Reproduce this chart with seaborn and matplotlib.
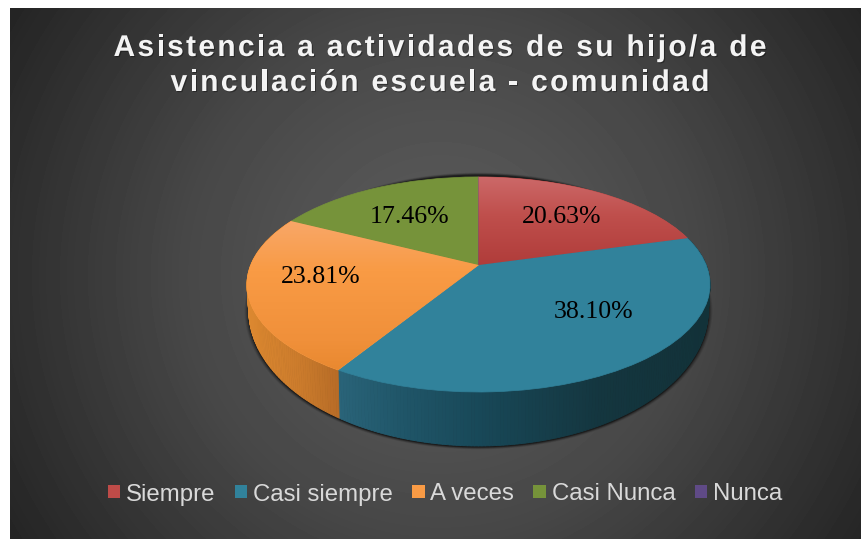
import numpy as np
import matplotlib
matplotlib.use("Agg")
import matplotlib.pyplot as plt
import seaborn as sns
from matplotlib import font_manager as fm, patheffects as pe
from matplotlib.collections import PolyCollection
from matplotlib.patches import Patch, Polygon
from matplotlib.text import Text
from matplotlib.transforms import Bbox, IdentityTransform, Transform
from matplotlib.ft2font import LoadFlags

# ---- data -------------------------------------------------------------
categories = ["Siempre", "Casi siempre", "A veces", "Casi Nunca", "Nunca"]
shares = [20.63, 38.10, 23.81, 17.46, 0.0]
share_labels = ["20.63%", "38.10%", "23.81%", "17.46%"]
title_text = "Asistencia a actividades de su hijo/a de\nvinculación escuela - comunidad"
colors = ["#BE4B48", "#31829B", "#F99B45", "#76933A", "#5F4A86"]

# ---- layout (pixels of the 861x539 canvas) ----------------------------
label_xy = [(561.5, 217), (594, 312), (321, 277), (410, 217)]
APEX = (478.5, 265.0)
A, B, K = 227.7, 104.0, 0.181   # projection of the pie plane
FLOOR_APEX = (478.5, 285.4)
FLOOR_A, FLOOR_B = 226.0, 131.5  # projection of the pie's lower rim


def project(x, y):
    d = 1 + K * y
    return APEX[0] + A * x / d, APEX[1] - B * y / d


def project_floor(x, y):
    d = 1 + K * y
    return FLOOR_APEX[0] + FLOOR_A * x / d, FLOOR_APEX[1] - FLOOR_B * y / d


class PlaneTransform(Transform):
    input_dims = output_dims = 2

    def transform_non_affine(self, values):
        v = np.asarray(values, float)
        return np.column_stack(project(v[:, 0], v[:, 1]))


class SpacedText(Text):
    """One text object drawn with letter spacing."""

    def setup(self, tracking, leading):
        self.tracking, self.leading = tracking, leading
        return self

    def _advance(self, s):
        font = fm.get_font(fm.findfont(self.get_fontproperties()))
        font.set_size(self.get_fontsize(), self.get_figure().dpi)
        return [font.load_char(ord(c), flags=LoadFlags.NO_HINTING).linearHoriAdvance / 65536 for c in s]

    def _width(self, s):
        return sum(self._advance(s)) + self.tracking * (len(s) - 1)

    def get_window_extent(self, renderer=None, dpi=None):
        x, y = self.get_transform().transform(self.get_position())
        lines = self.get_text().split("\n")
        w = max(self._width(s) for s in lines)
        h = self.leading * (len(lines) - 1)
        return Bbox([[x - w / 2, y - h - 8], [x + w / 2, y + 24]])

    def draw(self, renderer):
        x0, y0 = self.get_transform().transform(self.get_position())
        for i, s in enumerate(self.get_text().split("\n")):
            x = x0 - self._width(s) / 2
            for c, adv in zip(s, self._advance(s)):
                t = Text(x, y0 - i * self.leading, c, color=self.get_color(), ha="left", va="baseline",
                         fontproperties=self.get_fontproperties(), transform=IdentityTransform(),
                         path_effects=self.get_path_effects())
                t.set_figure(self.get_figure())
                t.draw(renderer)
                x += adv + self.tracking


sns.set_theme(style="white")
plt.rcParams["font.family"] = ["Liberation Sans", "DejaVu Sans"]
palette = sns.color_palette(colors)

fig = plt.figure(figsize=(8.61, 5.39), dpi=100, facecolor="white")
ax = fig.add_axes([0, 0, 1, 1])

# pie top face through the library, mapped onto the tilted plane
wedges, _ = ax.pie(shares, colors=palette, startangle=90, counterclock=False, radius=1)
ax.set_aspect("auto")
ax.axis("off")

# background
gx, gy = np.meshgrid(np.arange(10, 861), np.arange(8, 539))
dist = np.hypot(gx - 440, gy - 275)
grey = np.interp(dist, [0, 130, 260, 400, 500], [0x5C, 0x53, 0x47, 0x33, 0x25]) / 255
ax.imshow(grey, cmap="gray", vmin=0, vmax=1, extent=(10, 861, 539, 8), aspect="auto", zorder=0)

# soft shadow beneath the wall
phi = np.linspace(0, 2 * np.pi, 361)
fx, fy = project_floor(np.sin(phi), np.cos(phi))
for grow, alpha in zip([1.018, 1.014, 1.01, 1.006, 1.003], [0.08, 0.12, 0.16, 0.22, 0.30]):
    sx = 478.5 + (fx - 478.5) * grow
    sy = 310 + (fy - 310) * grow + 1
    ax.add_patch(Polygon(np.column_stack([sx, sy]), closed=True, fc="black", ec="none", alpha=alpha, zorder=1))

# wall, split at the slice boundaries
cum = np.cumsum([0] + shares) / 100 * 360
wall_stops = {
    1: ([338, 400, 480, 600, 708], ["#2A6479", "#205669", "#184858", "#14363F", "#123239"]),
    2: ([247, 300, 342], ["#DC8830", "#CB7B2C", "#B56A26"]),
}
for idx, (xs, cols) in wall_stops.items():
    th = np.radians(np.arange(cum[idx], cum[idx + 1] + 0.75, 0.75))
    th[-1] = np.radians(cum[idx + 1])
    tx, ty = project(np.sin(th), np.cos(th))
    bx, by = project_floor(np.sin(th), np.cos(th))
    quads = [np.array([[tx[i], ty[i]], [tx[i + 1], ty[i + 1]], [bx[i + 1], by[i + 1]], [bx[i], by[i]]])
             for i in range(len(th) - 1)]
    rgb = np.array([matplotlib.colors.to_rgb(c) for c in cols])
    mid = (tx[:-1] + tx[1:]) / 2
    face = np.column_stack([np.interp(mid, xs, rgb[:, k]) for k in range(3)])
    ax.add_collection(PolyCollection(quads, facecolors=face, edgecolors=face, linewidths=0.6, zorder=2))

# top face
plane = PlaneTransform() + ax.transData
for w in wedges:
    w.set_transform(plane)
    w.set_edgecolor(w.get_facecolor())
    w.set_linewidth(0.5)
    w.set_zorder(3)
    w.set_clip_on(False)

face_stops = {
    0: ([177, 215, 265], ["#CC6868", "#BF4F4C", "#B03C3A"]),
    2: ([221, 270, 340, 372], ["#F8A768", "#F99B45", "#F0903A", "#E8882F"]),
}
for idx, (ys, cols) in face_stops.items():
    rows = np.arange(177, 393)
    rgb = np.array([matplotlib.colors.to_rgb(c) for c in cols])
    img = np.column_stack([np.interp(rows, ys, rgb[:, k]) for k in range(3)])[:, None, :]
    im = ax.imshow(img, extent=(240, 720, 393, 177), aspect="auto", zorder=3.5)
    im.set_clip_path(wedges[idx])
ax.set_xlim(0, 861)
ax.set_ylim(539, 0)

# slice labels
for (lx, ly), s in zip(label_xy, share_labels):
    ax.text(lx, ly, s, ha="center", va="center", color="black", fontsize=18.6,
            family=["Liberation Serif"], zorder=5)

# title
title = SpacedText(440, 56, title_text, color="#F4F4F4", fontsize=21.6, fontweight="bold",
                   ha="center", va="baseline", transform=ax.transData, zorder=6,
                   path_effects=[pe.SimplePatchShadow(offset=(0.8, -0.8), shadow_rgbFace="black", alpha=0.35),
                                 pe.Normal()])
title.setup(tracking=0, leading=35)
ax.add_artist(title)
title.tracking = (653 - title._width(title_text.split("\n")[0])) / (len(title_text.split("\n")[0]) - 1)

# legend
handles = [Patch(facecolor=c, edgecolor="none") for c in palette]
leg = ax.legend(handles, categories, ncol=5, frameon=False, fontsize=17.3, labelcolor="#D9D9D9",
                loc="center", bbox_to_anchor=(445, 494.5), bbox_transform=ax.transData,
                handlelength=0.52, handleheight=0.46, handletextpad=0.24, columnspacing=0.8,
                borderpad=0, borderaxespad=0)
leg.set_zorder(6)

fig.savefig("out.png", dpi=100, facecolor="white")
